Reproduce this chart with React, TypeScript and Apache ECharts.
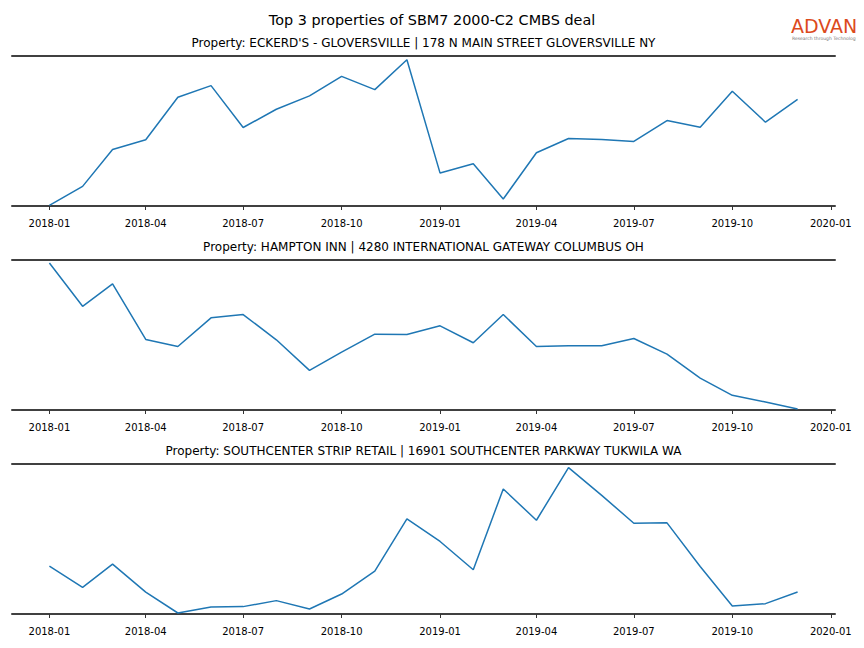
import React, { useEffect, useRef } from "react";
import * as echarts from "echarts";

const months: string[] = [
  "2018-01", "2018-02", "2018-03", "2018-04", "2018-05", "2018-06",
  "2018-07", "2018-08", "2018-09", "2018-10", "2018-11", "2018-12",
  "2019-01", "2019-02", "2019-03", "2019-04", "2019-05", "2019-06",
  "2019-07", "2019-08", "2019-09", "2019-10", "2019-11", "2019-12",
];

const tickLabels: string[] = [
  "2018-01", "2018-04", "2018-07", "2018-10",
  "2019-01", "2019-04", "2019-07", "2019-10", "2020-01",
];

const mainTitle = "Top 3 properties of SBM7 2000-C2 CMBS deal";

const panelTitles: string[] = [
  "Property: ECKERD'S - GLOVERSVILLE | 178 N MAIN STREET GLOVERSVILLE NY",
  "Property: HAMPTON INN | 4280 INTERNATIONAL GATEWAY COLUMBUS OH",
  "Property: SOUTHCENTER STRIP RETAIL | 16901 SOUTHCENTER PARKWAY TUKWILA WA",
];

const eckerdValues: number[] = [
  0.7, 19.7, 56.7, 66.4, 109, 120.7, 78.7, 97, 110.4, 130, 116.7, 146.7,
  33, 42.4, 7, 53.4, 67.7, 66.7, 64.7, 85.7, 79, 115, 84, 107,
];

const hamptonValues: number[] = [
  147.4, 104, 126.4, 70.7, 63.7, 92.4, 95.7, 70.4, 39.7, 58, 76, 75.7,
  84.4, 67.4, 95.7, 63.7, 64.4, 64.4, 71.7, 56, 32, 14.7, 8, 1,
];

const southcenterValues: number[] = [
  48, 26.7, 50, 22, 1, 7, 7.4, 13.4, 5, 20, 43, 95.4,
  72.7, 44.4, 125.4, 94, 146.7, 119, 91, 91.4, 47.7, 8, 10.4, 22,
];

const seriesValues: number[][] = [eckerdValues, hamptonValues, southcenterValues];

const toTs = (ym: string): number => {
  const [y, m] = ym.split("-").map(Number);
  return Date.UTC(y, m - 1, 1);
};

export default function App() {
  const ref = useRef<HTMLDivElement>(null);

  useEffect(() => {
    if (!ref.current) return;
    const chart = echarts.init(ref.current, null, { renderer: "svg" });

    const DAY = 86400000;
    const first = toTs(months[0]);
    const last = toTs(months[months.length - 1]);
    const margin = (last - first) * 0.05;
    const xMin = first - margin;
    const xMax = last + margin;
    const tickTs = tickLabels.map(toTs);

    const font = "DejaVu Sans";
    const spineColor = "#404040";
    const tops = [56, 260, 464];
    const plotH = 150;
    const gridLeft = 12;
    const gridRight = 29;
    const axesCenter = gridLeft + (864 - gridLeft - gridRight) / 2;

    const grids = tops.map((t) => ({ left: gridLeft, right: gridRight, top: t, height: plotH }));

    const xAxes: any[] = [];
    const yAxes: any[] = [];
    const series: any[] = [];
    tops.forEach((_, i) => {
      xAxes.push({
        type: "value",
        gridIndex: i,
        min: xMin,
        max: xMax,
        position: "bottom",
        axisLine: { show: true, onZero: false, lineStyle: { color: spineColor, width: 2 } },
        axisTick: {
          show: true,
          length: 4,
          customValues: tickTs,
          lineStyle: { color: "#333", width: 1 },
        },
        axisLabel: {
          show: true,
          customValues: tickTs,
          margin: 12,
          fontFamily: font,
          fontSize: 10,
          color: "#000",
          formatter: (v: number) => {
            const idx = tickTs.findIndex((t) => Math.abs(t - v) < DAY);
            return idx >= 0 ? tickLabels[idx] : "";
          },
          hideOverlap: false,
        },
        splitLine: { show: false },
      });
      xAxes.push({
        type: "value",
        gridIndex: i,
        position: "top",
        min: 0,
        max: 1,
        axisLine: { show: true, onZero: false, lineStyle: { color: spineColor, width: 2 } },
        axisTick: { show: false },
        axisLabel: { show: false },
        splitLine: { show: false },
      });
      yAxes.push({
        type: "value",
        gridIndex: i,
        min: 0,
        max: 150.4,
        axisLine: { show: false },
        axisTick: { show: false },
        axisLabel: { show: false },
        splitLine: { show: false },
      });
      series.push({
        type: "line",
        xAxisIndex: i * 2,
        yAxisIndex: i,
        data: months.map((m, k) => [toTs(m), seriesValues[i][k]]),
        showSymbol: false,
        symbol: "none",
        lineStyle: { color: "#1f77b4", width: 1.5 },
        itemStyle: { color: "#1f77b4" },
      });
    });

    const titles: any[] = [
      {
        text: mainTitle,
        left: 427,
        textAlign: "center",
        top: 8,
        textStyle: { fontFamily: font, fontSize: 14.4, fontWeight: "normal", color: "#000" },
      },
      ...panelTitles.map((t, i) => ({
        text: t,
        left: axesCenter - 5,
        textAlign: "center",
        top: tops[i] - 24,
        textStyle: { fontFamily: font, fontSize: 12, fontWeight: "normal", color: "#000" },
      })),
    ];

    chart.setOption({
      animation: false,
      backgroundColor: "#fff",
      title: titles,
      grid: grids,
      xAxis: xAxes,
      yAxis: yAxes,
      series,
      graphic: [
        {
          type: "text",
          left: 791,
          top: 16,
          style: {
            text: "ADVAN",
            fontFamily: "DejaVu Sans",
            fontSize: 19,
            fontWeight: "normal",
            fill: "#dc4a1c",
          },
        },
        {
          type: "text",
          left: 792,
          top: 36,
          style: {
            text: "Research through Technology",
            fontFamily: "DejaVu Sans",
            fontSize: 4.5,
            fill: "#777",
          },
        },
      ],
    });

    return () => chart.dispose();
  }, []);

  return <div ref={ref} style={{ width: 864, height: 648, margin: -8 }} />;
}
